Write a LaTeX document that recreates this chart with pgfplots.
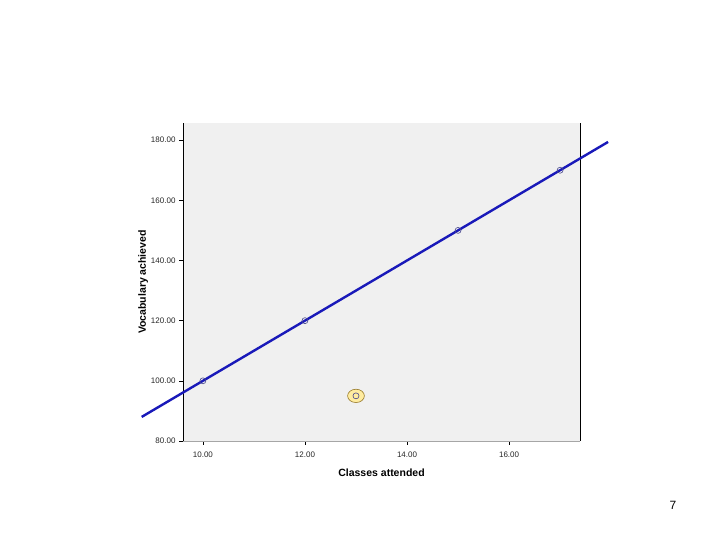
\documentclass[border=0pt]{standalone}
\usepackage{pgfplots}
\pgfplotsset{compat=1.18}
\usepackage{fontspec}
\setmainfont{Liberation Sans}
\definecolor{bgg}{RGB}{240,240,240}
\definecolor{linecol}{RGB}{25,25,185}
\definecolor{markcol}{RGB}{70,70,140}
\definecolor{hlfill}{RGB}{255,236,160}
\definecolor{hldraw}{RGB}{150,120,40}
\begin{document}
\begin{tikzpicture}[x=1pt,y=1pt]
\useasboundingbox (0,0) rectangle (720,540);
\begin{axis}[
  at={(183pt,99pt)}, anchor=south west,
  scale only axis, width=397pt, height=318pt,
  xmin=9.61, xmax=17.39, ymin=80, ymax=185.7,
  xtick={10,12,14,16}, ytick={80,100,...,180},
  xtick pos=bottom, ytick pos=left,
  tick align=outside, major tick length=4pt,
  tick style={black, line width=0.6pt},
  axis line style={draw=none},
  axis background/.style={fill=bgg},
  clip=false,
  /pgf/number format/.cd, fixed, fixed zerofill, precision=2, assume math mode=true,
  /pgfplots/.cd,
  ticklabel style={font=\fontsize{8}{9}\selectfont, text=black!85},
  xticklabel style={yshift=-3pt},
  xlabel={\textbf{Classes attended}},
  ylabel={\textbf{Vocabulary achieved}},
  label style={font=\fontsize{10.5}{12}\selectfont},
  xlabel style={yshift=-5pt},
  ylabel style={yshift=-4pt},
]
\draw[black, line width=0.8pt] (rel axis cs:0,0) -- (rel axis cs:0,1);
\draw[black, line width=0.8pt] (rel axis cs:1,0) -- (rel axis cs:1,1);
\draw[black!35, line width=0.6pt] (rel axis cs:0,0) -- (rel axis cs:1,0);
\addplot[only marks, mark=*, mark size=7pt, mark options={fill=hlfill, draw=hldraw, line width=0.6pt, xscale=1.2, yscale=0.95}] coordinates {(13,95)};
\addplot[only marks, mark=o, mark size=3pt, markcol, line width=0.6pt] coordinates {
(10,100) (12,120) (13,95) (15,150) (17,170)};
\addplot[linecol, line width=2.4pt] coordinates {(8.8,88) (17.94,179.4)};
\end{axis}
\node[font=\fontsize{12}{14}\selectfont] at (673,35) {7};
\end{tikzpicture}
\end{document}
